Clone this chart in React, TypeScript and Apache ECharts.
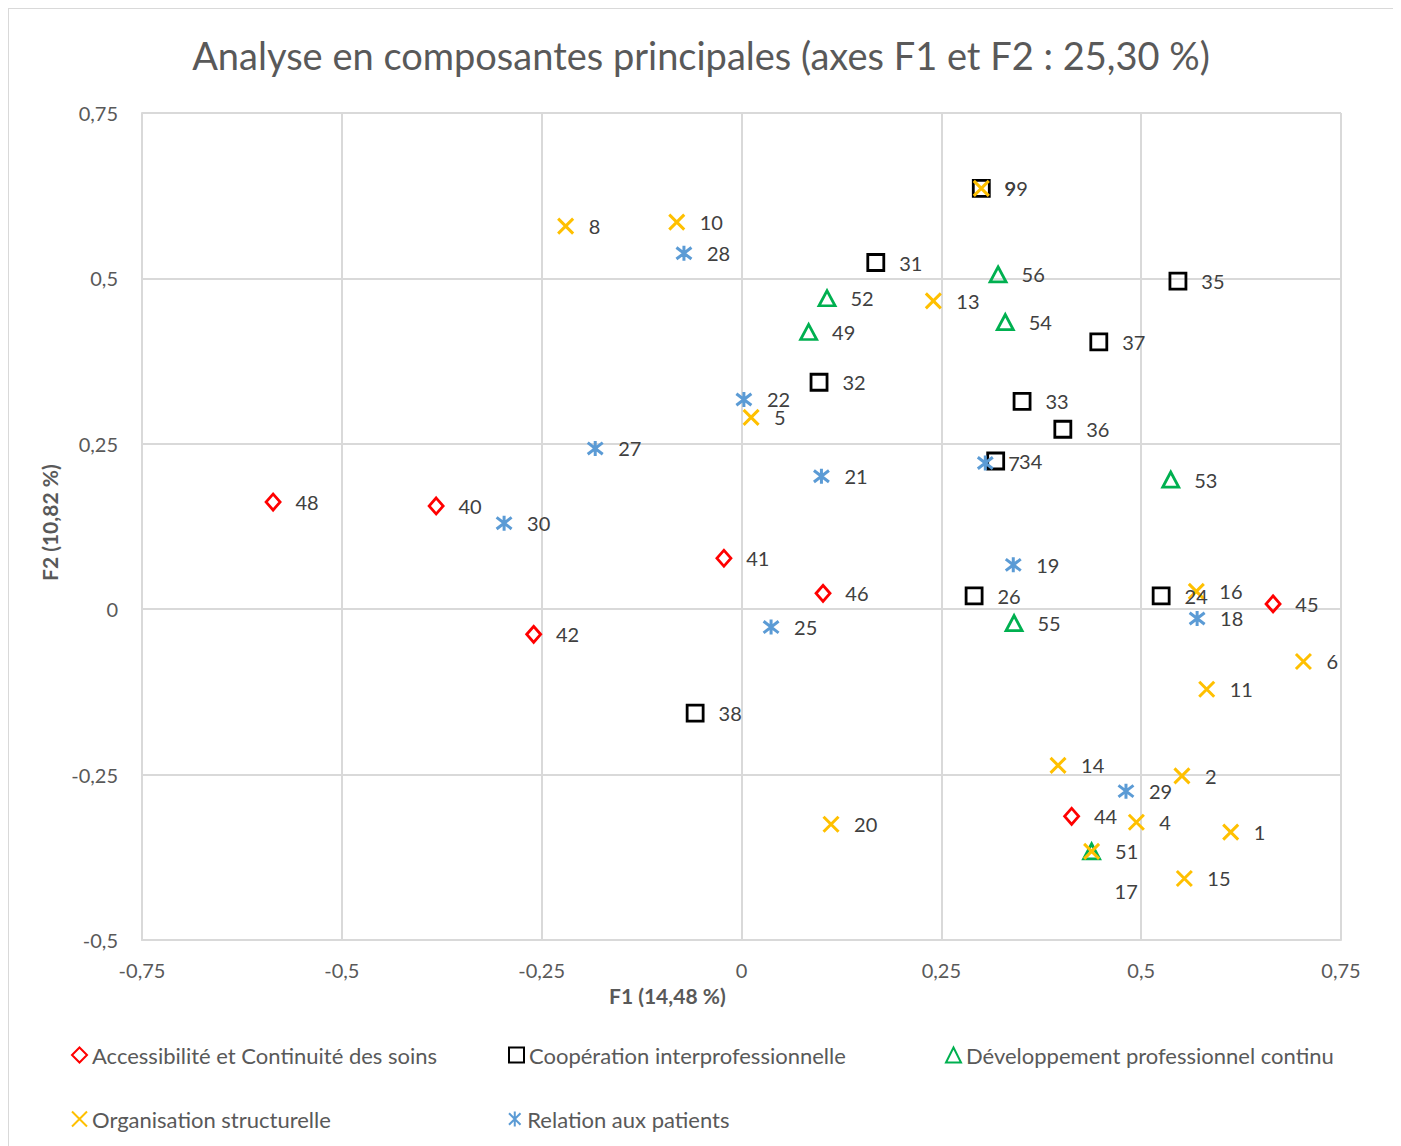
import React, { useEffect, useRef } from "react";
import * as echarts from "echarts";

const accessIds = ["48", "40", "41", "46", "42", "45", "44"];
const accessF1 = [-0.586, -0.382, -0.022, 0.102, -0.26, 0.665, 0.413];
const accessF2 = [0.162, 0.156, 0.077, 0.024, -0.038, 0.008, -0.313];

const coopIds = ["99", "31", "35", "37", "32", "33", "36", "34", "26", "24", "38"];
const coopF1 = [0.3, 0.168, 0.546, 0.447, 0.097, 0.351, 0.402, 0.318, 0.291, 0.525, -0.058];
const coopF2 = [0.636, 0.524, 0.496, 0.404, 0.343, 0.314, 0.272, 0.224, 0.02, 0.02, -0.157];

const devIds = ["56", "52", "54", "49", "53", "55", "51"];
const devF1 = [0.321, 0.107, 0.33, 0.084, 0.537, 0.341, 0.438];
const devF2 = [0.506, 0.47, 0.434, 0.419, 0.196, -0.021, -0.366];

const orgIds = ["9", "8", "10", "13", "5", "16", "6", "11", "14", "2", "4", "1", "15", "20", "17"];
const orgF1 = [0.3, -0.22, -0.081, 0.24, 0.012, 0.569, 0.703, 0.582, 0.396, 0.551, 0.494, 0.612, 0.554, 0.112, 0.438];
const orgF2 = [0.636, 0.579, 0.585, 0.466, 0.29, 0.027, -0.079, -0.121, -0.236, -0.252, -0.322, -0.337, -0.407, -0.325, -0.366];

const relIds = ["28", "22", "27", "21", "7", "30", "19", "25", "18", "29"];
const relF1 = [-0.072, 0.003, -0.183, 0.1, 0.305, -0.297, 0.34, 0.037, 0.57, 0.481];
const relF2 = [0.538, 0.317, 0.243, 0.201, 0.221, 0.13, 0.067, -0.027, -0.014, -0.275];

const seriesNames = [
  "Accessibilité et Continuité des soins",
  "Coopération interprofessionnelle",
  "Développement professionnel continu",
  "Organisation structurelle",
  "Relation aux patients",
];

const FONT = "Lato, 'Open Sans', sans-serif";
const TXT = "#595959";

const fmt = (v: number) => String(v).replace(".", ",");

const build = (ids: string[], xs: number[], ys: number[]) =>
  ids.map((id, i) => {
    const item: any = { value: [xs[i], ys[i]], name: id };
    if (id === "17") item.label = { offset: [0, 40] };
    return item;
  });

const X_PATH = "path://M0,0L10,10M10,0L0,10";
const STAR_PATH = "path://M0,0L10,10M10,0L0,10M5,-1.5L5,11.5";

export default function App() {
  const ref = useRef<HTMLDivElement>(null);
  useEffect(() => {
    if (!ref.current) return;
    const chart = echarts.init(ref.current, null, { renderer: "svg" });
    const label = {
      show: true,
      position: "right" as const,
      distance: 14,
      formatter: (p: any) => p.name,
      color: "#404040",
      fontSize: 20,
      fontFamily: FONT,
    };
    const mk = (
      name: string,
      data: any[],
      symbol: string,
      size: number | number[],
      color: string,
      bw: number
    ) => ({
      type: "scatter",
      name,
      data,
      symbol,
      symbolSize: size,
      itemStyle: { color: "rgba(255,255,255,0)", borderColor: color, borderWidth: bw, opacity: 1 },
      label,
      emphasis: { disabled: true },
    });
    const legendPos = [
      [57, 1030],
      [494, 1030],
      [931, 1030],
      [57, 1094],
      [494, 1094],
    ];
    chart.setOption({
      animation: false,
      textStyle: { fontFamily: FONT },
      title: {
        text: "Analyse en composantes principales (axes F1 et F2 : 25,30 %)",
        left: "center",
        top: 22,
        textStyle: { color: TXT, fontSize: 38, fontWeight: "normal", fontFamily: FONT },
      },
      grid: { left: 133, top: 104, width: 1199, height: 827 },
      xAxis: {
        type: "value",
        min: -0.75,
        max: 0.75,
        interval: 0.25,
        axisLine: { show: true, onZero: false, lineStyle: { color: "#d9d9d9", width: 2 } },
        axisTick: { show: false },
        splitLine: { show: true, lineStyle: { color: "#d9d9d9", width: 2 } },
        axisLabel: { formatter: fmt, color: TXT, fontSize: 20, fontFamily: FONT, margin: 20 },
      },
      yAxis: {
        type: "value",
        min: -0.5,
        max: 0.75,
        interval: 0.25,
        axisLine: { show: true, onZero: false, lineStyle: { color: "#d9d9d9", width: 2 } },
        axisTick: { show: false },
        splitLine: { show: true, lineStyle: { color: "#d9d9d9", width: 2 } },
        axisLabel: { formatter: fmt, color: TXT, fontSize: 20, fontFamily: FONT, margin: 24 },
      },
      legend: legendPos.map((pos, i) => ({
        data: [seriesNames[i]],
        left: pos[0],
        top: pos[1],
        itemWidth: 15,
        itemHeight: 15,
        itemGap: 4,
        textStyle: { color: TXT, fontSize: 22, fontFamily: FONT },
        selectedMode: false,
      })),
      graphic: [
        {
          type: "text",
          left: 600,
          top: 976,
          style: { text: "F1 (14,48 %)", fill: TXT, font: `bold 21px ${FONT}` },
        },
        {
          type: "text",
          x: 30,
          y: 572,
          rotation: Math.PI / 2,
          style: { text: "F2 (10,82 %)", fill: TXT, font: `bold 21px ${FONT}` },
        },
      ],
      series: [
        mk(seriesNames[0], build(accessIds, accessF1, accessF2), "diamond", [14, 16], "#FF0000", 2.8),
        mk(seriesNames[1], build(coopIds, coopF1, coopF2), "rect", 16, "#000000", 2.8),
        mk(seriesNames[2], build(devIds, devF1, devF2), "triangle", [16, 15], "#00B050", 2.8),
        mk(seriesNames[3], build(orgIds, orgF1, orgF2), X_PATH, 15, "#FFC000", 3),
        mk(seriesNames[4], build(relIds, relF1, relF2), STAR_PATH, 15, "#5B9BD5", 3),
      ],
    });
    return () => chart.dispose();
  }, []);
  return (
    <div
      ref={ref}
      style={{
        width: 1386,
        height: 1140,
        border: "1px solid #d9d9d9",
        boxSizing: "border-box",
        background: "#fff",
      }}
    />
  );
}
